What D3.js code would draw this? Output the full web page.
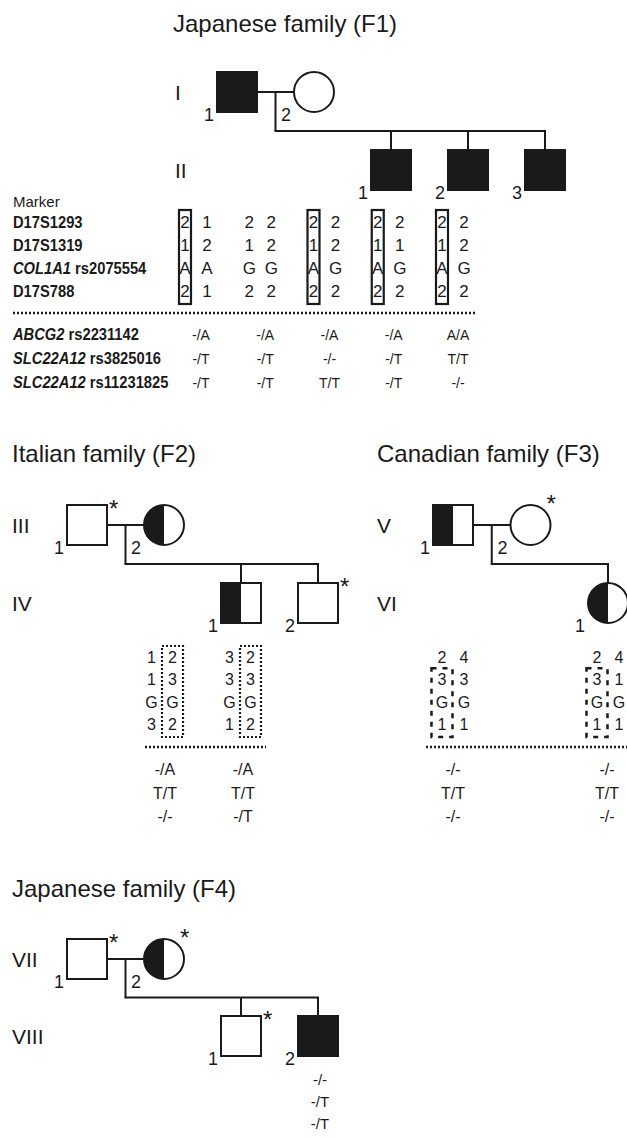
<!DOCTYPE html>
<html>
<head>
<meta charset="utf-8">
<script src="https://cdn.jsdelivr.net/npm/d3@7"></script>
<style>
body { margin: 0; background: #fff; }
text { font-family: "Liberation Sans", Arial, Helvetica, sans-serif; fill: #1a1a1a; }
</style>
</head>
<body>
<div id="main"></div>
<script>
// ---- data ----
const familyTitles = ["Japanese family (F1)", "Italian family (F2)", "Canadian family (F3)", "Japanese family (F4)"];

const markerGenes = ["", "", "COL1A1", ""];
const markerIds = ["D17S1293", "D17S1319", "rs2075554", "D17S788"];
const snpGenes = ["ABCG2", "SLC22A12", "SLC22A12"];
const snpIds = ["rs2231142", "rs3825016", "rs11231825"];

// sex, status (full / half / none), generation, slot, number, star
const f1People = [
    { sex: "m", status: "full", gen: 0, slot: 0, num: "1" },
    { sex: "f", status: "none", gen: 0, slot: 1, num: "2" },
    { sex: "m", status: "full", gen: 1, slot: 2, num: "1" },
    { sex: "m", status: "full", gen: 1, slot: 3, num: "2" },
    { sex: "m", status: "full", gen: 1, slot: 4, num: "3" }
];
const f2People = [
    { sex: "m", status: "none", gen: 0, slot: 0, num: "1", star: true },
    { sex: "f", status: "half", gen: 0, slot: 1, num: "2" },
    { sex: "m", status: "half", gen: 1, slot: 2, num: "1" },
    { sex: "m", status: "none", gen: 1, slot: 3, num: "2", star: true }
];
const f3People = [
    { sex: "m", status: "half", gen: 0, slot: 0, num: "1" },
    { sex: "f", status: "none", gen: 0, slot: 1, num: "2", star: true },
    { sex: "f", status: "half", gen: 1, slot: 2, num: "1" }
];
const f4People = [
    { sex: "m", status: "none", gen: 0, slot: 0, num: "1", star: true },
    { sex: "f", status: "half", gen: 0, slot: 1, num: "2", star: true },
    { sex: "m", status: "none", gen: 1, slot: 2, num: "1", star: true },
    { sex: "m", status: "full", gen: 1, slot: 3, num: "2" }
];

const f1Generations = ["I", "II"];
const f2Generations = ["III", "IV"];
const f3Generations = ["V", "VI"];
const f4Generations = ["VII", "VIII"];

// haplotypes: [first allele column, second allele column] per typed person
const f1Haplotypes = [
    [["2", "1", "A", "2"], ["1", "2", "A", "1"]],
    [["2", "1", "G", "2"], ["2", "2", "G", "2"]],
    [["2", "1", "A", "2"], ["2", "2", "G", "2"]],
    [["2", "1", "A", "2"], ["2", "1", "G", "2"]],
    [["2", "1", "A", "2"], ["2", "2", "G", "2"]]
];
const f1Boxed = [0, null, 0, 0, 0];
const f1Genotypes = [
    ["-/A", "-/T", "-/T"],
    ["-/A", "-/T", "-/T"],
    ["-/A", "-/-", "T/T"],
    ["-/A", "-/T", "-/T"],
    ["A/A", "T/T", "-/-"]
];

const f2Haplotypes = [
    [["1", "1", "G", "3"], ["2", "3", "G", "2"]],
    [["3", "3", "G", "1"], ["2", "3", "G", "2"]]
];
const f2Boxed = [1, 1];
const f2Genotypes = [
    ["-/A", "T/T", "-/-"],
    ["-/A", "T/T", "-/T"]
];

const f3Haplotypes = [
    [["2", "3", "G", "1"], ["4", "3", "G", "1"]],
    [["2", "3", "G", "1"], ["4", "1", "G", "1"]]
];
const f3Boxed = [0, 0];
const f3Genotypes = [
    ["-/-", "T/T", "-/-"],
    ["-/-", "T/T", "-/-"]
];

const f4Genotypes = [["-/-", "-/T", "-/T"]];

onload = () => {
    const d3 = window.d3;
    const INK = "#1a1a1a";
    let svg = d3.select("#main").append("svg");
    svg.attr("width", 627).attr("height", 1138);

    const SIZE = 40;

    function drawPerson(g, p, x, y) {
        const h = SIZE / 2;
        if (p.sex === "m") {
            g.append("rect")
                .attr("x", x - h).attr("y", y - h)
                .attr("width", SIZE).attr("height", SIZE)
                .attr("fill", p.status === "full" ? INK : "#fff")
                .attr("stroke", INK).attr("stroke-width", 2);
            if (p.status === "half") {
                g.append("rect")
                    .attr("x", x - h).attr("y", y - h)
                    .attr("width", h).attr("height", SIZE)
                    .attr("fill", INK);
            }
        } else {
            g.append("circle")
                .attr("cx", x).attr("cy", y).attr("r", h)
                .attr("fill", p.status === "full" ? INK : "#fff")
                .attr("stroke", INK).attr("stroke-width", 2);
            if (p.status === "half") {
                g.append("path")
                    .attr("d", `M${x},${y - h} A${h},${h} 0 0 0 ${x},${y + h} Z`)
                    .attr("fill", INK);
            }
        }
        // number at lower left
        g.append("text")
            .attr("x", x - h - 3)
            .attr("y", y + h + 9)
            .attr("text-anchor", "end")
            .style("font-size", "18px")
            .text(p.num);
        if (p.star) {
            const sx = p.sex === "m" ? x + h + 2 : x + h - 4;
            const sy = p.sex === "m" ? y - h + 12 : y - h + 7;
            g.append("text")
                .attr("x", sx).attr("y", sy)
                .style("font-size", "24px")
                .text("*");
        }
    }

    function drawFamily(people, gens, xScale, yScale, labelX) {
        let g = svg.append("g");
        const h = SIZE / 2;
        const parents = people.filter((p) => p.gen === 0);
        const kids = people.filter((p) => p.gen === 1);
        const y0 = yScale(0), y1 = yScale(1);
        const xa = xScale(parents[0].slot), xb = xScale(parents[1].slot);
        const midX = (xa + xb) / 2;
        const sibY = (y0 + y1) / 2;

        let lines = g.append("g")
            .attr("stroke", INK).attr("stroke-width", 2).attr("fill", "none");
        lines.append("line").attr("x1", xa + h).attr("x2", xb - h).attr("y1", y0).attr("y2", y0);
        lines.append("line").attr("x1", midX).attr("x2", midX).attr("y1", y0).attr("y2", sibY);
        const kidXs = kids.map((k) => xScale(k.slot));
        lines.append("path")
            .attr("d", `M${midX - 1},${sibY} H${d3.max(kidXs) + 1}`);
        kids.forEach((k) => {
            lines.append("line")
                .attr("x1", xScale(k.slot)).attr("x2", xScale(k.slot))
                .attr("y1", sibY).attr("y2", y1 - h);
        });

        people.forEach((p) => drawPerson(g, p, xScale(p.slot), yScale(p.gen)));

        gens.forEach((label, i) => {
            g.append("text")
                .attr("x", labelX)
                .attr("y", yScale(i))
                .attr("dy", "0.36em")
                .style("font-size", "21px")
                .text(label);
        });
        return g;
    }

    function drawTitle(text, x, y) {
        svg.append("text")
            .attr("x", x).attr("y", y)
            .style("font-size", "24px")
            .text(text);
    }

    function drawDotted(x1, x2, y) {
        svg.append("line")
            .attr("x1", x1).attr("x2", x2).attr("y1", y).attr("y2", y)
            .attr("stroke", INK).attr("stroke-width", 2.5)
            .attr("stroke-dasharray", "2,2");
    }

    // draws allele pairs; boxed column framed by box style
    function drawHaplotypes(haps, boxed, colScale, rowScale, opts) {
        let g = svg.append("g");
        haps.forEach((pair, c) => {
            const cx = colScale(c);
            pair.forEach((alleles, side) => {
                const ax = cx + (side === 0 ? -opts.gap : opts.gap);
                alleles.forEach((a, r) => {
                    g.append("text")
                        .attr("x", ax)
                        .attr("y", rowScale(r))
                        .attr("text-anchor", "middle")
                        .style("font-size", opts.font + "px")
                        .text(a);
                });
                if (boxed[c] === side) {
                    const r0 = opts.boxFrom || 0;
                    const top = rowScale(r0) - opts.font - 1;
                    const bottom = rowScale(alleles.length - 1) + 7;
                    g.append("rect")
                        .attr("x", ax - opts.boxW / 2)
                        .attr("y", top)
                        .attr("width", opts.boxW)
                        .attr("height", bottom - top)
                        .attr("fill", "none")
                        .attr("stroke", INK)
                        .attr("stroke-width", opts.boxStroke)
                        .attr("stroke-dasharray", opts.dash);
                }
            });
        });
    }

    function drawGenotypes(genos, colScale, rowScale, font) {
        let g = svg.append("g");
        genos.forEach((col, c) => {
            col.forEach((gt, r) => {
                g.append("text")
                    .attr("x", colScale(c))
                    .attr("y", rowScale(r))
                    .attr("text-anchor", "middle")
                    .style("font-size", font + "px")
                    .text(gt);
            });
        });
    }

    // bold names, slightly condensed like the original typeface
    function drawMarkerNames(genes, ids, rowScale, x) {
        let g = svg.append("g");
        genes.forEach((gene, i) => {
            let t = g.append("text")
                .attr("transform", `translate(${x},${rowScale(i)}) scale(0.92,1)`)
                .style("font-size", "16px")
                .style("font-weight", "bold");
            if (gene) {
                t.append("tspan").style("font-style", "italic").text(gene);
                t.append("tspan").text(" " + ids[i]);
            } else {
                t.text(ids[i]);
            }
        });
    }

    // ---- F1 ----
    drawTitle(familyTitles[0], 173, 32);
    let f1X = d3.scaleLinear().domain([0, 4]).range([237, 545]);
    let f1Y = d3.scaleLinear().domain([0, 1]).range([92, 170]);
    drawFamily(f1People, f1Generations, f1X, f1Y, 175);

    svg.append("text").attr("x", 13).attr("y", 207).style("font-size", "15px").text("Marker");
    let f1Rows = d3.scalePoint().domain(d3.range(markerIds.length)).range([228, 297]);
    drawMarkerNames(markerGenes, markerIds, f1Rows, 13);
    let f1Cols = d3.scaleLinear().domain([0, f1Haplotypes.length - 1]).range([196, 453]);
    drawHaplotypes(f1Haplotypes, f1Boxed, f1Cols, f1Rows,
        { gap: 11, font: 17, boxW: 12, boxStroke: 2.2, dash: null });
    drawDotted(13, 476, 313);

    let snpRows = d3.scalePoint().domain(d3.range(snpIds.length)).range([340, 388]);
    drawMarkerNames(snpGenes, snpIds, snpRows, 13);
    let f1GenoCols = d3.scaleLinear().domain([0, f1Genotypes.length - 1]).range([201, 458]);
    drawGenotypes(f1Genotypes, f1GenoCols, snpRows, 14);

    // ---- F2 ----
    drawTitle(familyTitles[1], 12, 462);
    let f2X = d3.scaleLinear().domain([0, 3]).range([87, 318]);
    let f2Y = d3.scaleLinear().domain([0, 1]).range([525, 603]);
    drawFamily(f2People, f2Generations, f2X, f2Y, 12);
    let hapRows = d3.scalePoint().domain(d3.range(4)).range([663, 730]);
    let f2Cols = d3.scaleLinear().domain([0, 1]).range([162, 240]);
    drawHaplotypes(f2Haplotypes, f2Boxed, f2Cols, hapRows,
        { gap: 10.5, font: 16, boxW: 21, boxStroke: 2.2, dash: "2,2" });
    drawDotted(145, 266, 747);
    let genoRows = d3.scalePoint().domain(d3.range(3)).range([775, 822]);
    drawGenotypes(f2Genotypes, d3.scaleLinear().domain([0, 1]).range([165, 243]), genoRows, 16);

    // ---- F3 ----
    drawTitle(familyTitles[2], 377, 462);
    let f3X = d3.scaleLinear().domain([0, 2]).range([453, 608]);
    let f3Y = d3.scaleLinear().domain([0, 1]).range([525, 603]);
    drawFamily(f3People, f3Generations, f3X, f3Y, 377);
    let f3Cols = d3.scaleLinear().domain([0, 1]).range([453, 608]);
    drawHaplotypes(f3Haplotypes, f3Boxed, f3Cols, hapRows,
        { gap: 11, font: 16, boxW: 21, boxStroke: 2.5, dash: "5,6", boxFrom: 1 });
    drawDotted(426, 627, 747);
    drawGenotypes(f3Genotypes, d3.scaleLinear().domain([0, 1]).range([453, 607]), genoRows, 16);

    // ---- F4 ----
    drawTitle(familyTitles[3], 12, 897);
    let f4X = d3.scaleLinear().domain([0, 3]).range([87, 318]);
    let f4Y = d3.scaleLinear().domain([0, 1]).range([959, 1036]);
    drawFamily(f4People, f4Generations, f4X, f4Y, 12);
    let f4Rows = d3.scalePoint().domain(d3.range(3)).range([1085, 1129]);
    drawGenotypes(f4Genotypes, d3.scaleLinear().domain([0, 0]).range([320, 320]), f4Rows, 15);
};
</script>
</body>
</html>
